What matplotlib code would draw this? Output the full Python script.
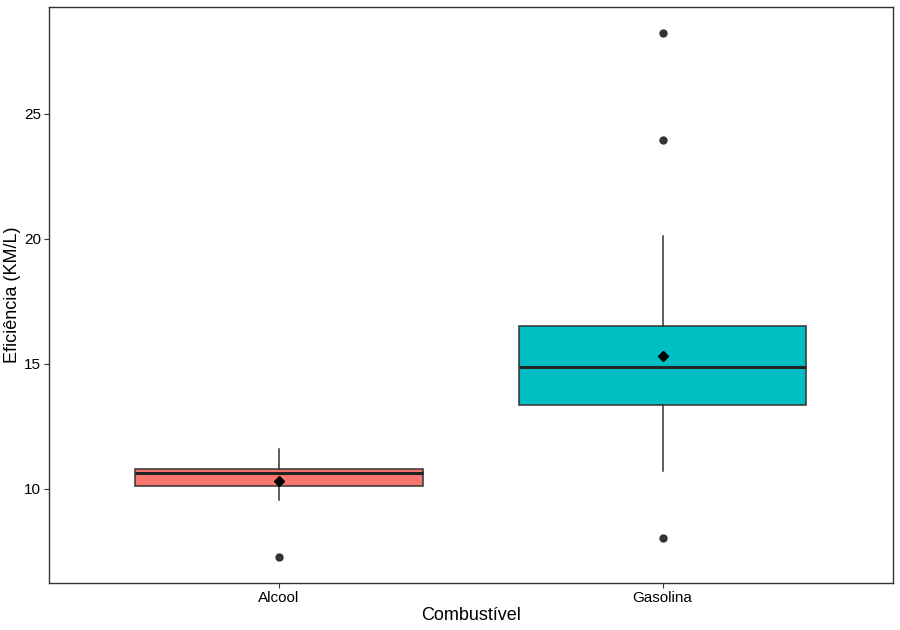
import matplotlib
matplotlib.use("Agg")
import matplotlib.pyplot as plt

plt.rcParams['font.family'] = ['Liberation Sans', 'DejaVu Sans']

# values
categories = ['Alcool', 'Gasolina']
q1 = [10.12, 13.36]
medians = [10.62, 14.88]
q3 = [10.80, 16.52]
whisk_lo = [9.56, 10.72]
whisk_hi = [11.60, 20.12]
means = [10.32, 15.30]
outliers = [[7.28], [8.04, 23.96, 28.24]]
fills = ['#F8766D', '#00BFC4']

stats = []
for i, name in enumerate(categories):
    stats.append({'label': name, 'q1': q1[i], 'med': medians[i], 'q3': q3[i],
                  'whislo': whisk_lo[i], 'whishi': whisk_hi[i],
                  'mean': means[i], 'fliers': outliers[i]})

fig, ax = plt.subplots(figsize=(9, 6.3), dpi=100)
fig.subplots_adjust(left=0.054, right=0.992, top=0.989, bottom=0.075)

bp = ax.bxp(stats, positions=[1, 2], widths=0.75, patch_artist=True,
            showmeans=True, showcaps=False,
            boxprops=dict(edgecolor='#333333', linewidth=1.1),
            medianprops=dict(color='#222222', linewidth=2.2),
            whiskerprops=dict(color='#333333', linewidth=1.1),
            flierprops=dict(marker='o', markerfacecolor='#333333',
                            markeredgecolor='#333333', markersize=5),
            meanprops=dict(marker='D', markerfacecolor='black',
                           markeredgecolor='black', markersize=5.5))
for patch, c in zip(bp['boxes'], fills):
    patch.set_facecolor(c)

ax.set_xlim(0.4, 2.6)
ax.set_ylim(6.24, 29.28)
ax.set_yticks([10, 15, 20, 25])
ax.set_xlabel('Combustível', fontsize=13, labelpad=2)
ax.set_ylabel('Eficiência (KM/L)', fontsize=13, labelpad=2)
ax.tick_params(labelsize=11, length=3.6, pad=2, color='#333333', labelcolor='black')
for s in ax.spines.values():
    s.set_color('#333333')
    s.set_linewidth(1)

plt.savefig('out.png', dpi=100)
